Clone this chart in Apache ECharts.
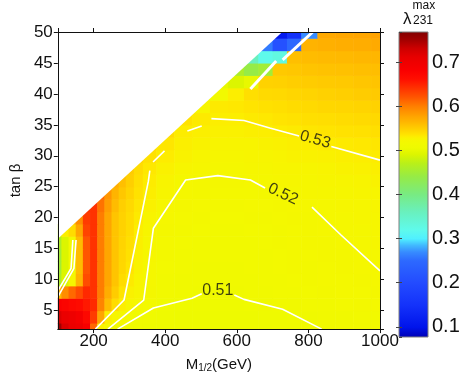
<!DOCTYPE html>
<html>
<head>
<meta charset="utf-8">
<script src="https://cdn.jsdelivr.net/npm/echarts@6/dist/echarts.min.js"></script>
<style>
  html, body { margin: 0; padding: 0; background: #fff; }
  #chart { width: 463px; height: 378px; }
</style>
</head>
<body>
<div id="chart"></div>
<script>
// grid of the scan: M_1/2 (GeV) columns, tan beta rows
const M_HALF = [100, 120, 140, 160, 180, 200, 220, 240, 260, 280, 300, 325, 350, 400, 450, 500, 550, 600, 640, 680, 720, 760, 800, 850, 900, 950, 1000];
const TAN_BETA = [2, 4, 6, 8, 10, 12, 14, 16, 18, 20, 22, 24, 26, 28, 30, 32, 34, 36, 38, 40, 42, 44, 46, 48, 50];

// lambda'_231 max, one row per tan beta (null = no model)
const LAMBDA_MAX = [
  [0.75, 0.72, 0.705, 0.70, 0.685, 0.61, 0.527, 0.52, 0.512, 0.509, 0.508, 0.507, 0.506, 0.505, 0.505, 0.505, 0.504, 0.505, 0.505, 0.506, 0.507, 0.508, 0.509, 0.511, 0.512, 0.513, 0.514],
  [0.72, 0.705, 0.70, 0.69, 0.67, 0.635, 0.575, 0.53, 0.525, 0.52, 0.515, 0.51, 0.509, 0.507, 0.506, 0.506, 0.505, 0.506, 0.506, 0.507, 0.508, 0.509, 0.511, 0.512, 0.513, 0.514, 0.515],
  [0.68, 0.675, 0.67, 0.665, 0.655, 0.645, 0.595, 0.56, 0.54, 0.53, 0.525, 0.52, 0.516, 0.51, 0.508, 0.507, 0.507, 0.508, 0.509, 0.511, 0.512, 0.513, 0.514, 0.515, 0.516, 0.517, 0.518],
  [0.56, 0.59, 0.61, 0.625, 0.645, 0.64, 0.60, 0.57, 0.55, 0.535, 0.528, 0.524, 0.519, 0.514, 0.512, 0.511, 0.51, 0.511, 0.512, 0.513, 0.514, 0.515, 0.516, 0.517, 0.518, 0.518, 0.519],
  [0.46, 0.49, 0.52, 0.565, 0.625, 0.64, 0.60, 0.575, 0.555, 0.54, 0.532, 0.526, 0.52, 0.515, 0.513, 0.512, 0.512, 0.512, 0.513, 0.514, 0.515, 0.516, 0.517, 0.518, 0.518, 0.519, 0.52],
  [0.45, 0.49, 0.515, 0.56, 0.62, 0.64, 0.60, 0.575, 0.555, 0.543, 0.535, 0.527, 0.521, 0.516, 0.514, 0.513, 0.513, 0.513, 0.514, 0.515, 0.516, 0.517, 0.517, 0.518, 0.519, 0.52, 0.521],
  [0.45, 0.49, 0.515, 0.56, 0.62, 0.64, 0.60, 0.575, 0.555, 0.544, 0.537, 0.528, 0.522, 0.517, 0.515, 0.514, 0.514, 0.514, 0.515, 0.515, 0.516, 0.517, 0.518, 0.519, 0.519, 0.52, 0.521],
  [0.46, 0.49, 0.515, 0.56, 0.62, 0.64, 0.60, 0.575, 0.555, 0.545, 0.538, 0.529, 0.523, 0.518, 0.516, 0.515, 0.515, 0.515, 0.515, 0.516, 0.517, 0.518, 0.519, 0.519, 0.52, 0.521, 0.522],
  [0.48, 0.53, 0.54, 0.575, 0.63, 0.64, 0.60, 0.575, 0.555, 0.546, 0.54, 0.53, 0.524, 0.519, 0.517, 0.516, 0.515, 0.515, 0.516, 0.516, 0.517, 0.518, 0.519, 0.52, 0.521, 0.521, 0.522],
  [null, null, 0.56, 0.59, 0.635, 0.64, 0.60, 0.575, 0.555, 0.546, 0.54, 0.532, 0.526, 0.52, 0.518, 0.517, 0.516, 0.516, 0.517, 0.517, 0.518, 0.519, 0.519, 0.52, 0.521, 0.522, 0.523],
  [null, null, null, null, 0.64, 0.64, 0.605, 0.58, 0.56, 0.548, 0.542, 0.534, 0.528, 0.522, 0.519, 0.518, 0.517, 0.517, 0.518, 0.518, 0.519, 0.52, 0.521, 0.521, 0.522, 0.523, 0.524],
  [null, null, null, null, null, null, 0.61, 0.585, 0.565, 0.553, 0.545, 0.536, 0.53, 0.524, 0.52, 0.519, 0.518, 0.518, 0.518, 0.519, 0.52, 0.521, 0.522, 0.522, 0.523, 0.524, 0.525],
  [null, null, null, null, null, null, null, null, 0.57, 0.558, 0.548, 0.538, 0.531, 0.526, 0.521, 0.519, 0.519, 0.519, 0.52, 0.521, 0.522, 0.523, 0.523, 0.524, 0.525, 0.526, 0.527],
  [null, null, null, null, null, null, null, null, null, null, 0.55, 0.54, 0.533, 0.528, 0.524, 0.522, 0.521, 0.521, 0.522, 0.523, 0.524, 0.525, 0.525, 0.526, 0.527, 0.528, 0.529],
  [null, null, null, null, null, null, null, null, null, null, null, 0.545, 0.537, 0.531, 0.527, 0.524, 0.523, 0.523, 0.524, 0.525, 0.526, 0.527, 0.527, 0.528, 0.529, 0.53, 0.531],
  [null, null, null, null, null, null, null, null, null, null, null, null, 0.542, 0.534, 0.529, 0.527, 0.526, 0.526, 0.526, 0.527, 0.528, 0.529, 0.53, 0.531, 0.532, 0.533, 0.534],
  [null, null, null, null, null, null, null, null, null, null, null, null, null, 0.54, 0.531, 0.529, 0.528, 0.528, 0.529, 0.53, 0.531, 0.532, 0.534, 0.535, 0.536, 0.537, 0.538],
  [null, null, null, null, null, null, null, null, null, null, null, null, null, null, 0.536, 0.532, 0.53, 0.53, 0.532, 0.533, 0.535, 0.536, 0.538, 0.539, 0.54, 0.541, 0.542],
  [null, null, null, null, null, null, null, null, null, null, null, null, null, null, null, 0.525, 0.532, 0.533, 0.535, 0.537, 0.538, 0.54, 0.541, 0.543, 0.544, 0.545, 0.546],
  [null, null, null, null, null, null, null, null, null, null, null, null, null, null, null, 0.51, 0.515, 0.53, 0.538, 0.541, 0.542, 0.544, 0.545, 0.547, 0.548, 0.55, 0.551],
  [null, null, null, null, null, null, null, null, null, null, null, null, null, null, null, null, 0.5, 0.49, 0.5, 0.546, 0.547, 0.549, 0.55, 0.551, 0.552, 0.554, 0.555],
  [null, null, null, null, null, null, null, null, null, null, null, null, null, null, null, null, null, 0.46, 0.44, 0.45, 0.552, 0.553, 0.555, 0.556, 0.557, 0.558, 0.559],
  [null, null, null, null, null, null, null, null, null, null, null, null, null, null, null, null, null, null, 0.36, 0.32, 0.33, 0.558, 0.56, 0.561, 0.562, 0.563, 0.564],
  [null, null, null, null, null, null, null, null, null, null, null, null, null, null, null, null, null, null, null, 0.26, 0.21, 0.25, 0.566, 0.568, 0.569, 0.57, 0.572],
  [null, null, null, null, null, null, null, null, null, null, null, null, null, null, null, null, null, null, null, null, 0.11, 0.15, 0.27, 0.573, 0.574, 0.575, 0.577]
];

// edge of the excluded region (M_1/2, tan beta)
const NO_MODEL = [[100, 16.6], [727, 50], [100, 50]];

// contour lines, broken where the labels sit
const C053 = [
  [[205, 2], [285, 6.7], [353, 25.9], [357, 27.6]],
  [[366, 29], [398, 30.8]],
  [[462, 34], [502, 34.8]],
  [[529, 36], [620, 35.7], [692, 34.5], [774, 33.2]],
  [[864, 31.5], [1000, 29.3]]
];
const C052 = [
  [[240, 2], [340, 6.7], [367, 18.3], [457, 26.1], [547, 26.8], [638, 26.1], [679, 24.8]],
  [[810, 21.7], [891, 17.2], [1000, 11.4]]
];
const C051 = [
  [[267, 2], [367, 5.4], [475, 7], [502, 7.7]],
  [[593, 7.5], [620, 6.8], [728, 5.2], [837, 2]]
];
const C_LEFT = [
  [[151, 16.4], [145, 11.8], [100, 7.2]],
  [[142, 16.4], [137, 11.8], [100, 8.2]]
];
const C_EDGE = [
  [[638, 40.8], [710, 45.3]],
  [[728, 45.5], [812, 50]]
];

const LABEL_TEXT = ['0.53', '0.52', '0.51'];
const LABEL_AT = [[819, 32.6], [729, 23.8], [547, 8.3]];

// colour scale of the colour bar
const COLOR_STOPS = [
  [0.077, [0, 0, 180]], [0.10, [0, 20, 235]], [0.15, [20, 50, 250]], [0.20, [35, 75, 255]],
  [0.25, [45, 105, 255]], [0.27, [55, 140, 255]], [0.285, [65, 185, 255]], [0.30, [80, 240, 255]],
  [0.32, [95, 250, 235]], [0.36, [105, 240, 190]], [0.40, [120, 235, 130]], [0.44, [150, 235, 70]],
  [0.47, [185, 240, 25]], [0.49, [220, 245, 0]], [0.505, [238, 250, 0]], [0.515, [242, 249, 0]],
  [0.525, [247, 245, 0]], [0.53, [252, 238, 0]], [0.535, [255, 228, 0]], [0.545, [255, 212, 0]],
  [0.555, [255, 196, 0]], [0.565, [255, 180, 0]], [0.575, [255, 166, 0]], [0.60, [255, 125, 0]],
  [0.62, [255, 85, 0]], [0.64, [255, 50, 0]], [0.66, [255, 15, 0]], [0.68, [250, 0, 0]],
  [0.71, [232, 0, 0]], [0.73, [205, 0, 0]], [0.75, [160, 0, 0]], [0.768, [128, 0, 0]]
];

const FONT = '"Liberation Sans", Arial, sans-serif';
const LABEL_ROTATE = [-16, -25, 0];
const VMIN = COLOR_STOPS[0][0];
const VMAX = COLOR_STOPS[COLOR_STOPS.length - 1][0];

function rgb(c) { return 'rgb(' + c.join(',') + ')'; }

function lambdaColor(v) {
  const s = COLOR_STOPS;
  if (v <= s[0][0]) return rgb(s[0][1]);
  for (let i = 1; i < s.length; i++) {
    if (v <= s[i][0]) {
      const f = (v - s[i - 1][0]) / (s[i][0] - s[i - 1][0]);
      const a = s[i - 1][1], b = s[i][1];
      return rgb([0, 1, 2].map((k) => Math.round(a[k] + (b[k] - a[k]) * f)));
    }
  }
  return rgb(s[s.length - 1][1]);
}

// cell edges half way between grid points
const cells = [];
TAN_BETA.forEach((t, j) => {
  const t0 = j === 0 ? t : (TAN_BETA[j - 1] + t) / 2;
  const t1 = j === TAN_BETA.length - 1 ? t : (t + TAN_BETA[j + 1]) / 2;
  M_HALF.forEach((m, i) => {
    const v = LAMBDA_MAX[j][i];
    if (v == null) return;
    const m0 = i === 0 ? m : (M_HALF[i - 1] + m) / 2;
    const m1 = i === M_HALF.length - 1 ? m : (m + M_HALF[i + 1]) / 2;
    cells.push([m0, m1, t0, t1, v]);
  });
});

function lineSeries(parts, width) {
  return parts.map((pts) => ({
    type: 'line', xAxisIndex: 0, yAxisIndex: 0, z: 3, silent: true,
    data: pts, showSymbol: false, symbol: 'none',
    lineStyle: { color: '#fff', width: width }
  }));
}

const axisText = { color: '#111', fontSize: 17, fontFamily: FONT };
const axisLine = { show: true, lineStyle: { color: '#111', width: 1 } };
const axisTick = { show: true, length: 4, lineStyle: { color: '#111' } };

const chart = echarts.init(document.getElementById('chart'), null, { renderer: 'canvas' });

chart.setOption({
  animation: false,
  textStyle: { fontFamily: FONT },
  grid: [
    { left: 48, top: 32, width: 332, height: 305 },
    { left: 399, top: 32, width: 29, height: 305 }
  ],
  xAxis: [
    {
      gridIndex: 0, type: 'value', position: 'bottom', min: 100, max: 1000, z: 10,
      axisLine, axisTick, splitLine: { show: false },
      axisLabel: Object.assign({ margin: 4, showMinLabel: false, formatter: (v) => String(v) }, axisText),
      name: '{m|M}{s|1/2}{m|(GeV)}', nameLocation: 'middle', nameGap: 21,
      nameTextStyle: {
        rich: {
          m: { fontSize: 15, lineHeight: 16, verticalAlign: 'top', color: '#111', fontFamily: FONT },
          s: { fontSize: 10, lineHeight: 12, verticalAlign: 'bottom', padding: [8, 0, 0, 0], color: '#111', fontFamily: FONT }
        }
      }
    },
    {
      gridIndex: 0, type: 'value', position: 'top', min: 100, max: 1000, z: 10,
      axisLine, axisTick, splitLine: { show: false }, axisLabel: { show: false }
    },
    { gridIndex: 1, type: 'value', min: 0, max: 1, show: false }
  ],
  yAxis: [
    {
      gridIndex: 0, type: 'value', position: 'left', min: 2, max: 50, splitNumber: 10, z: 10,
      axisLine, axisTick, splitLine: { show: false },
      axisLabel: Object.assign({ margin: 5, showMinLabel: false }, axisText),
      name: 'tan β', nameLocation: 'middle', nameGap: 28, nameRotate: 90,
      nameTextStyle: { fontSize: 15, color: '#111', fontFamily: FONT }
    },
    {
      gridIndex: 0, type: 'value', position: 'right', min: 2, max: 50, splitNumber: 10, z: 10,
      axisLine, axisTick, splitLine: { show: false }, axisLabel: { show: false }
    },
    {
      gridIndex: 1, type: 'value', position: 'right', min: VMIN, max: VMAX, splitNumber: 7, z: 10,
      axisLine: { show: false }, splitLine: { show: false },
      axisTick: { show: true, inside: true, length: 3, lineStyle: { color: '#444' } },
      axisLabel: { margin: 4, showMinLabel: false, showMaxLabel: false, color: '#111', fontSize: 20, fontFamily: FONT }
    },
    {
      gridIndex: 1, type: 'value', position: 'left', min: VMIN, max: VMAX, splitNumber: 7, z: 10,
      axisLine: { show: false }, splitLine: { show: false }, axisLabel: { show: false },
      axisTick: { show: true, inside: true, length: 3, lineStyle: { color: '#444' } }
    }
  ],
  graphic: [
    { type: 'text', x: 67, y: 96, style: { text: 'no model', font: '20px ' + FONT, fill: '#111', verticalAlign: 'middle' } },
    { type: 'text', x: 403, y: 19.5, style: { text: 'λ', font: '17px ' + FONT, fill: '#111', verticalAlign: 'middle' } },
    { type: 'text', x: 412.5, y: 6, style: { text: 'max', font: '12px ' + FONT, fill: '#111', verticalAlign: 'middle' } },
    { type: 'text', x: 413, y: 21, style: { text: '231', font: '12px ' + FONT, fill: '#111', verticalAlign: 'middle' } }
  ],
  series: [
    {
      type: 'custom', xAxisIndex: 0, yAxisIndex: 0, z: 1, silent: true,
      data: cells, encode: { x: [0, 1], y: [2, 3] },
      renderItem: (params, api) => {
        const a = api.coord([api.value(0), api.value(3)]);
        const b = api.coord([api.value(1), api.value(2)]);
        return {
          type: 'rect',
          shape: { x: a[0], y: a[1], width: b[0] - a[0] + 0.6, height: b[1] - a[1] + 0.6 },
          style: { fill: lambdaColor(api.value(4)) }
        };
      }
    },
    {
      type: 'custom', xAxisIndex: 0, yAxisIndex: 0, z: 2, silent: true,
      data: [0],
      renderItem: (params, api) => ({
        type: 'polygon',
        shape: { points: NO_MODEL.map((p) => api.coord(p)) },
        style: { fill: '#fff' }
      })
    },
    ...lineSeries(C053, 1.6),
    ...lineSeries(C052, 1.6),
    ...lineSeries(C051, 1.6),
    ...lineSeries(C_LEFT, 1.6),
    ...lineSeries(C_EDGE, 3),
    {
      type: 'scatter', xAxisIndex: 0, yAxisIndex: 0, z: 4, silent: true, symbolSize: 0,
      data: LABEL_TEXT.map((txt, k) => ({ name: txt, value: LABEL_AT[k], label: { rotate: LABEL_ROTATE[k] } })),
      label: { show: true, position: 'inside', formatter: '{b}', fontSize: 16, color: '#111', fontFamily: FONT }
    },
    {
      type: 'custom', xAxisIndex: 2, yAxisIndex: 2, z: 2, silent: true,
      data: [[0, 1, VMIN, VMAX]], encode: { x: [0, 1], y: [2, 3] },
      renderItem: (params, api) => {
        const a = api.coord([api.value(0), api.value(3)]);
        const b = api.coord([api.value(1), api.value(2)]);
        const stops = COLOR_STOPS.map((s) => ({ offset: (s[0] - VMIN) / (VMAX - VMIN), color: rgb(s[1]) }));
        return {
          type: 'rect',
          shape: { x: a[0], y: a[1], width: b[0] - a[0], height: b[1] - a[1] },
          style: { fill: new echarts.graphic.LinearGradient(0, 1, 0, 0, stops), stroke: '#7f7f7f', lineWidth: 1 }
        };
      }
    }
  ]
});
</script>
</body>
</html>
